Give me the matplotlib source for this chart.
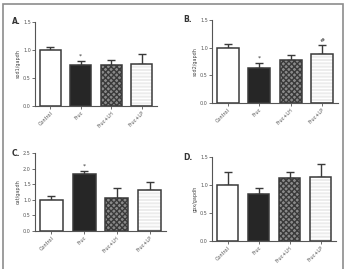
import numpy as np
import matplotlib.pyplot as plt
from matplotlib.patches import Rectangle

groups = ['Control', 'Fruc', 'Fruc+LH', 'Fruc+LP']

sod1 = [1.00, 0.73, 0.73, 0.75]
sod1_err = [0.06, 0.08, 0.09, 0.17]
sod2 = [1.00, 0.64, 0.77, 0.88]
sod2_err = [0.06, 0.08, 0.09, 0.16]
cat = [1.00, 1.83, 1.07, 1.30]
cat_err = [0.13, 0.09, 0.32, 0.26]
gpx = [1.00, 0.84, 1.12, 1.14]
gpx_err = [0.24, 0.11, 0.11, 0.23]

W, H = 346, 269
EDGE = '#3a3a3a'


def px_axes(fig, left, right, top, bottom):
    return fig.add_axes([left / W, 1 - bottom / H, (right - left) / W, (bottom - top) / H])


def bar_panel(ax, vals, errs, ylabel, ymax, yticks, marks):
    x = np.arange(len(groups))
    fills = ['white', '#262626', '#8a8a8a', '#ececec']
    hatches = [None, None, 'xxxxxx', '-----']
    hcolors = [None, None, '#3a3a3a', '#ffffff']
    for i in range(len(groups)):
        if hatches[i]:
            ax.bar(x[i], vals[i], 0.7, color=fills[i], hatch=hatches[i],
                   edgecolor=hcolors[i], linewidth=0, zorder=2)
            ax.bar(x[i], vals[i], 0.7, fill=False, edgecolor=EDGE, linewidth=1.1, zorder=3)
        else:
            ax.bar(x[i], vals[i], 0.7, color=fills[i], edgecolor=EDGE, linewidth=1.1, zorder=3)
    ax.errorbar(x, vals, yerr=[np.zeros(len(vals)), errs], fmt='none', ecolor=EDGE,
                elinewidth=1.0, capsize=3, capthick=1.0, zorder=1)
    for i, m in marks:
        ax.text(x[i], vals[i] + errs[i] + ymax * 0.06, m, ha='center', va='center',
                fontsize=4.5, color='#333333')
    ax.set_xlim(-0.5, 3.5)
    ax.set_ylim(0, ymax)
    ax.set_yticks(yticks)
    ax.set_yticklabels(['%.1f' % t for t in yticks], fontsize=3.5, color='#444444')
    ax.set_xticks(x)
    ax.set_xticklabels(groups, rotation=45, ha='right', rotation_mode='anchor',
                       fontsize=3.5, color='#444444')
    ax.set_ylabel(ylabel, fontsize=3.5, color='#444444', labelpad=2)
    for s in ['top', 'right']:
        ax.spines[s].set_visible(False)
    for s in ['left', 'bottom']:
        ax.spines[s].set_color('#555555')
        ax.spines[s].set_linewidth(0.8)
    ax.tick_params(length=2, width=0.6, pad=1, colors='#555555')


fig = plt.figure(figsize=(W / 100, H / 100), dpi=100)

axA = px_axes(fig, 35, 157, 22, 106)
bar_panel(axA, sod1, sod1_err, 'sod1/gapdh', 1.5, [0.0, 0.5, 1.0, 1.5], [(1, '*')])
axB = px_axes(fig, 212, 338, 20, 103)
bar_panel(axB, sod2, sod2_err, 'sod2/gapdh', 1.5, [0.0, 0.5, 1.0, 1.5], [(1, '*'), (3, '#')])
axC = px_axes(fig, 35, 166, 153, 231)
bar_panel(axC, cat, cat_err, 'cat/gapdh', 2.5, [0.0, 0.5, 1.0, 1.5, 2.0, 2.5], [(1, '*')])
axD = px_axes(fig, 212, 336, 157, 241)
bar_panel(axD, gpx, gpx_err, 'gpx/gapdh', 1.5, [0.0, 0.5, 1.0, 1.5], [])

for lbl, xp, yp in [('A.', 12, 22), ('B.', 183, 20), ('C.', 12, 153), ('D.', 183, 157)]:
    fig.text(xp / W, 1 - yp / H, lbl, fontsize=5.5, fontweight='bold', color='#333333',
             ha='left', va='center')

# outer frame, open at the bottom edge
fig.patches.append(Rectangle((3 / W, -0.05), 340 / W, 1.05 - 4 / H, transform=fig.transFigure,
                             fill=False, edgecolor='#8c8c8c', linewidth=1.2))

fig.savefig('out.png', dpi=100)
